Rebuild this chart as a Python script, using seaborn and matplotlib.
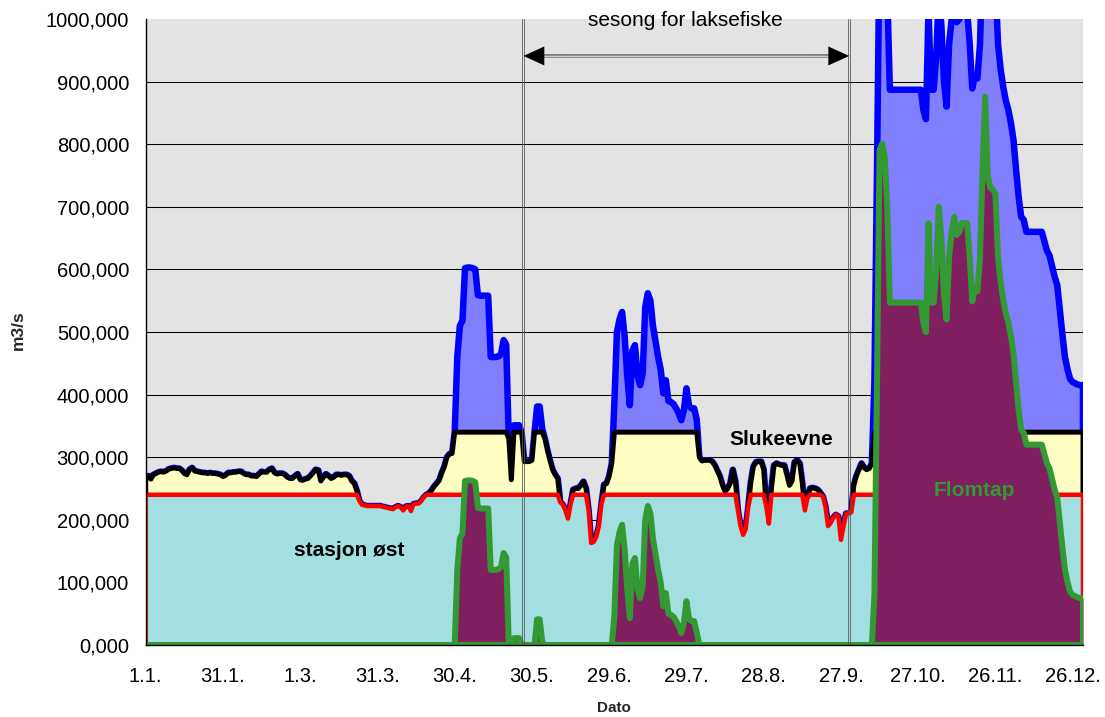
import numpy as np
import pandas as pd
import matplotlib
matplotlib.use("Agg")
import matplotlib.pyplot as plt
import seaborn as sns
from matplotlib.patches import FancyArrowPatch, ArrowStyle
from matplotlib.ticker import FuncFormatter, FixedLocator

# Daily inflow (m3/s), 1 Jan - 30 Dec
tilsig = [
    266, 270, 265, 272, 274, 276, 277, 276, 278, 281,
    282, 283, 282, 282, 279, 274, 272, 280, 283, 278,
    277, 276, 275, 275, 274, 275, 274, 274, 273, 272,
    269, 271, 275, 275, 276, 276, 277, 277, 274, 272,
    272, 270, 270, 269, 273, 277, 276, 276, 280, 282,
    275, 273, 274, 274, 272, 268, 266, 266, 270, 273,
    264, 263, 265, 266, 270, 275, 280, 279, 262, 268,
    273, 270, 266, 268, 272, 272, 271, 272, 272, 270,
    262, 258, 246, 230, 224, 223, 222, 222, 222, 222,
    222, 222, 221, 220, 219, 218, 217, 220, 222, 220,
    215, 221, 222, 214, 225, 226, 226, 230, 236, 240,
    242, 247, 253, 258, 263, 275, 285, 300, 305, 306,
    340, 460, 510, 518, 602, 603, 603, 602, 600, 559,
    558, 558, 558, 558, 460, 460, 460, 461, 465, 487,
    480, 330, 264, 351, 351, 351, 340, 293, 293, 293,
    295, 340, 381, 381, 345, 330, 311, 295, 280, 272,
    266, 228, 224, 215, 202, 225, 248, 250, 250, 255,
    261, 250, 215, 163, 165, 173, 190, 226, 256, 258,
    270, 290, 386, 500, 520, 532, 493, 430, 383, 470,
    479, 430, 415, 434, 540, 562, 550, 510, 485, 460,
    440, 402, 423, 390, 388, 385, 378, 370, 359, 375,
    410, 382, 378, 378, 360, 300, 294, 295, 295, 295,
    293, 287, 278, 269, 255, 245, 250, 258, 280, 262,
    215, 190, 176, 185, 221, 260, 285, 292, 293, 293,
    280, 221, 194, 250, 287, 290, 288, 287, 287, 272,
    255, 262, 292, 295, 290, 258, 215, 235, 250, 251,
    250, 248, 243, 237, 221, 190, 195, 203, 208, 205,
    168, 190, 210, 210, 212, 255, 270, 280, 290, 283,
    280, 282, 290, 420, 760, 1130, 1141, 1120, 1040, 887,
    887, 887, 887, 887, 887, 887, 887, 887, 887, 887,
    887, 887, 855, 840, 1014, 887, 887, 940, 1040, 990,
    900, 860, 960, 1000, 1024, 995, 1000, 1014, 1014, 1014,
    960, 889, 910, 905, 960, 1100, 1216, 1090, 1070, 1068,
    1060, 960, 920, 892, 870, 855, 834, 807, 760, 716,
    684, 679, 660, 660, 660, 660, 660, 660, 660, 645,
    630, 622, 605, 588, 575, 536, 496, 460, 440, 425,
    420, 418, 416, 415, 415,
]

# Capacities (m3/s)
slukeevne_kap = 340
stasjon_ost_kap = 240

# Fishing season limits (day of year)
sesong_start = 146.7
sesong_slutt = 273.2

tick_days = [0, 30, 60, 90, 120, 150, 180, 210, 240, 270, 300, 330, 360]
tick_labels = ["1.1.", "31.1.", "1.3.", "31.3.", "30.4.", "30.5.", "29.6.",
               "29.7.", "28.8.", "27.9.", "27.10.", "26.11.", "26.12."]
y_ticks = [0, 100, 200, 300, 400, 500, 600, 700, 800, 900, 1000]

inflow = np.array(tilsig, dtype=float)
days = np.arange(len(inflow))
slukeevne = np.minimum(inflow, slukeevne_kap)
stasjon_ost = np.minimum(inflow, stasjon_ost_kap)
flomtap = np.maximum(inflow - slukeevne_kap, 0)

sns.set_theme(style="white")
plt.rcParams["font.family"] = ["Liberation Sans", "DejaVu Sans"]

W, H = 1105, 717
fig = plt.figure(figsize=(W / 100, H / 100), dpi=100)
x0, x1, y_top, y_bot = 145.7, 1083.0, 19.0, 645.0
ax = fig.add_axes([x0 / W, 1 - y_bot / H, (x1 - x0) / W, (y_bot - y_top) / H])
ax.set_facecolor("#E3E3E3")

for g in y_ticks[1:-1]:
    ax.axhline(g, color="black", lw=0.75, zorder=0.5)

px = 72 / 100  # points per pixel
series = [
    (inflow, "#8080FF", "#0000FF", 6.5),
    (slukeevne, "#FFFFC4", "#000000", 5.0),
    (stasjon_ost, "#A3DFE0", "#FF0000", 4.5),
    (flomtap, "#7F1F5F", "#339933", 6.0),
]
last = days[-1]
for i, (vals, fill, edge, lw) in enumerate(series):
    z = 1 + 2 * i
    ax.fill_between(days, 0, vals, color=fill, lw=0, zorder=z)
    outline = pd.DataFrame({
        "dag": np.concatenate([[0], days, [last, 0]]),
        "verdi": np.concatenate([[0], vals, [0, 0]]),
    })
    sns.lineplot(data=outline, x="dag", y="verdi", sort=False, estimator=None,
                 color=edge, lw=lw * px, zorder=z + 0.5, ax=ax, legend=False,
                 solid_joinstyle="round", solid_capstyle="round")

# Fishing season markers
for xs in (sesong_start, sesong_slutt):
    for off in (-0.39, 0.39):
        ax.axvline(xs + off, color="#555555", lw=0.8 * px, zorder=9)

y_arrow = 941
head_len_days = 21 / 2.575
ax.plot([sesong_start + head_len_days - 0.5, sesong_slutt - head_len_days + 0.5],
        [y_arrow, y_arrow], color="#808080", lw=4 * px, zorder=10,
        solid_capstyle="butt")
ax.plot([sesong_start + head_len_days - 0.5, sesong_slutt - head_len_days + 0.5],
        [y_arrow, y_arrow], color="#D0D0D0", lw=1.4 * px, zorder=10.5,
        solid_capstyle="butt")
for tip, tail in ((sesong_start, sesong_start + 2 * head_len_days),
                  (sesong_slutt, sesong_slutt - 2 * head_len_days)):
    ax.add_patch(FancyArrowPatch((tail, y_arrow), (tip, y_arrow),
                                 arrowstyle=ArrowStyle("-|>", head_length=15, head_width=6.8),
                                 mutation_scale=1, color="black", lw=0.01,
                                 shrinkA=0, shrinkB=0, zorder=11))

ax.text((sesong_start + sesong_slutt) / 2 - 0.4, 989, "sesong for laksefiske",
        ha="center", va="baseline", fontsize=15, color="black", clip_on=False, zorder=12)
ax.text(247, 319, "Slukeevne", ha="center", va="baseline", fontsize=15,
        fontweight="bold", color="black", zorder=12)
ax.text(79, 142, "stasjon øst", ha="center", va="baseline", fontsize=15,
        fontweight="bold", color="black", zorder=12)
ax.text(322, 238, "Flomtap", ha="center", va="baseline", fontsize=15,
        fontweight="bold", color="#339933", zorder=12)

ax.set_xlim(0, last)
ax.set_ylim(0, 1000)
ax.xaxis.set_major_locator(FixedLocator(tick_days))
ax.set_xticklabels(tick_labels)
ax.yaxis.set_major_locator(FixedLocator(y_ticks))
ax.yaxis.set_major_formatter(FuncFormatter(lambda v, p: f"{v:.3f}".replace(".", ",")))
ax.tick_params(axis="both", direction="out", length=5, width=0.8, color="black",
               labelsize=14.5, labelcolor="black")
ax.tick_params(axis="y", pad=7)
ax.tick_params(axis="x", pad=11)
ax.set_xlabel("")
ax.set_ylabel("")
for side in ("top", "right"):
    ax.spines[side].set_visible(False)
for side in ("left", "bottom"):
    ax.spines[side].set_color("black")
    ax.spines[side].set_linewidth(1.0)
    ax.spines[side].set_zorder(13)

fig.text(18 / W, 1 - 330 / H, "m3/s", rotation=90, ha="center", va="center",
         fontsize=12.5, fontweight="bold")
fig.text(614 / W, 1 - 708 / H, "Dato", ha="center", va="center",
         fontsize=11, fontweight="bold")

fig.savefig("out.png", dpi=100, facecolor="white")
